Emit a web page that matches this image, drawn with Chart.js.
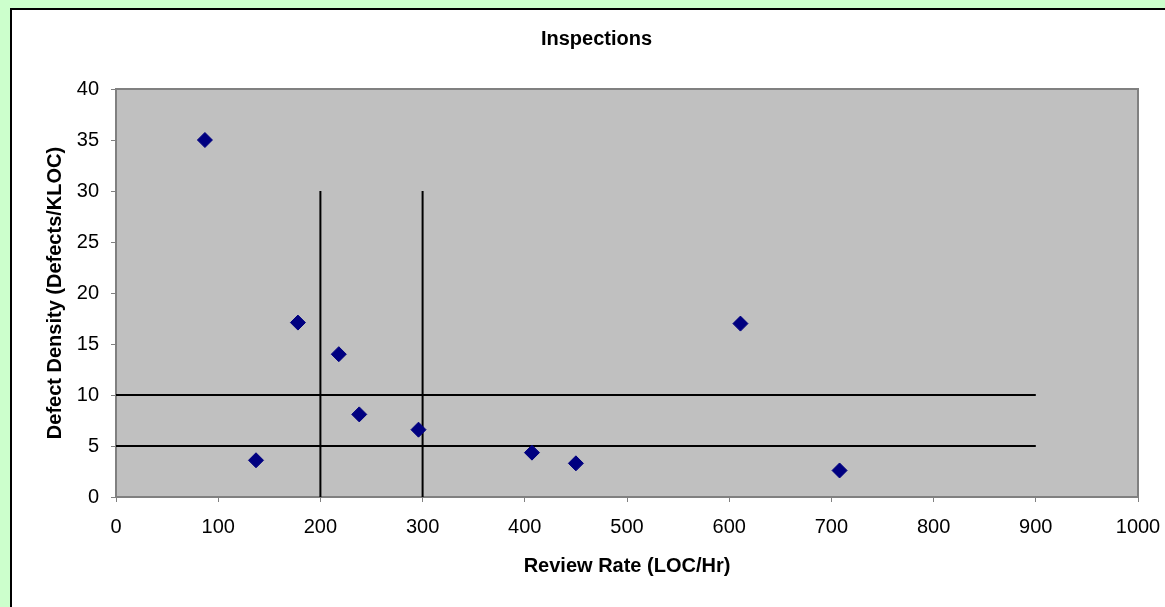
<!DOCTYPE html>
<html>
<head>
<meta charset="utf-8">
<script src="https://cdn.jsdelivr.net/npm/chart.js@4"></script>
<style>
    html, body { margin: 0; padding: 0; width: 1165px; height: 607px; overflow: hidden; background: #ccffcc; }
    #box { position: absolute; left: 10px; top: 8px; width: 1200px; height: 640px; background: #ffffff; border-left: 2px solid #000; border-top: 2px solid #000; }
    #wrap { position: absolute; left: 12px; top: 10px; width: 1169px; height: 597px; }
</style>
</head>
<body>
<div id="box"></div>
<div id="wrap"><canvas id="myChart" width="1169" height="597"></canvas></div>
<script>
// Inspection data
const reviewRate = [87, 137, 178, 218, 238, 296, 407, 450, 611, 708];
const defectDensity = [35.0, 3.6, 17.1, 14.0, 8.1, 6.6, 4.35, 3.3, 17.0, 2.6];

// Reference lines: review rate limits and defect density limits
const rateLimits = [200, 300];
const rateLimitTop = 30;
const densityLimits = [10, 5];
const densityLimitEnd = 900;

// Axis ticks
const xTicks = [0, 100, 200, 300, 400, 500, 600, 700, 800, 900, 1000];
const yTicks = [0, 5, 10, 15, 20, 25, 30, 35, 40];

const fontFamily = 'Arial, "Liberation Sans", sans-serif';

const points = reviewRate.map((x, i) => ({ x: x, y: defectDensity[i] }));

const lineSets = [];
rateLimits.forEach(r => {
    lineSets.push({
        data: [{ x: r, y: 0 }, { x: r, y: rateLimitTop }],
        showLine: true,
        borderColor: '#000000',
        borderWidth: 2,
        pointRadius: 0
    });
});
densityLimits.forEach(d => {
    lineSets.push({
        data: [{ x: 0, y: d }, { x: densityLimitEnd, y: d }],
        showLine: true,
        borderColor: '#000000',
        borderWidth: 2,
        pointRadius: 0
    });
});

// gray plot area with border
const plotArea = {
    id: 'plotArea',
    beforeDraw(chart) {
        const a = chart.chartArea;
        const c = chart.ctx;
        c.save();
        c.fillStyle = '#c0c0c0';
        c.fillRect(a.left, a.top, a.right - a.left, a.bottom - a.top);
        c.strokeStyle = '#808080';
        c.lineWidth = 2;
        c.strokeRect(a.left, a.top, a.right - a.left, a.bottom - a.top);
        c.restore();
    }
};

const ctx = document.getElementById('myChart').getContext('2d');

new Chart(ctx, {
    type: 'scatter',
    data: {
        datasets: [{
            label: 'Inspections',
            data: points,
            backgroundColor: '#000080',
            borderColor: '#000080',
            borderWidth: 1,
            pointStyle: 'rectRot',
            pointRadius: 7.5,
            pointHoverRadius: 7.5
        }].concat(lineSets)
    },
    options: {
        responsive: false,
        animation: false,
        events: [],
        layout: { padding: 0 },
        plugins: {
            legend: { display: false },
            tooltip: { enabled: false },
            title: {
                display: true,
                text: 'Inspections',
                color: '#000000',
                font: { family: fontFamily, size: 20, weight: 'bold' },
                padding: { top: 17, bottom: 38 }
            }
        },
        scales: {
            x: {
                type: 'linear',
                min: 0,
                max: 1000,
                afterBuildTicks: s => { s.ticks = xTicks.map(v => ({ value: v })); },
                afterFit: s => { s.height = 110; },
                grid: { drawOnChartArea: false, drawTicks: true, tickLength: 5, color: '#808080' },
                border: { display: true, color: '#808080', width: 2 },
                ticks: {
                    color: '#000000',
                    padding: 13,
                    font: { family: fontFamily, size: 20 },
                    callback: v => String(v)
                },
                title: {
                    display: true,
                    text: 'Review Rate (LOC/Hr)',
                    color: '#000000',
                    font: { family: fontFamily, size: 20, weight: 'bold' },
                    padding: { top: 0, bottom: 29 }
                }
            },
            y: {
                type: 'linear',
                min: 0,
                max: 40,
                afterBuildTicks: s => { s.ticks = yTicks.map(v => ({ value: v })); },
                afterFit: s => { s.width = 104; },
                grid: { drawOnChartArea: false, drawTicks: true, tickLength: 5, color: '#808080' },
                border: { display: true, color: '#808080', width: 2 },
                ticks: {
                    color: '#000000',
                    padding: 12,
                    font: { family: fontFamily, size: 20 },
                    callback: v => String(v)
                },
                title: {
                    display: true,
                    text: 'Defect Density (Defects/KLOC)',
                    color: '#000000',
                    font: { family: fontFamily, size: 20, weight: 'bold' },
                    padding: { top: 31, bottom: 0 }
                }
            },
            // empty right axis, only keeps room right of the plot
            yr: {
                type: 'linear',
                position: 'right',
                display: true,
                afterFit: s => { s.width = 43; },
                grid: { display: false },
                border: { display: false },
                ticks: { display: false }
            }
        }
    },
    plugins: [plotArea]
});
</script>
</body>
</html>
